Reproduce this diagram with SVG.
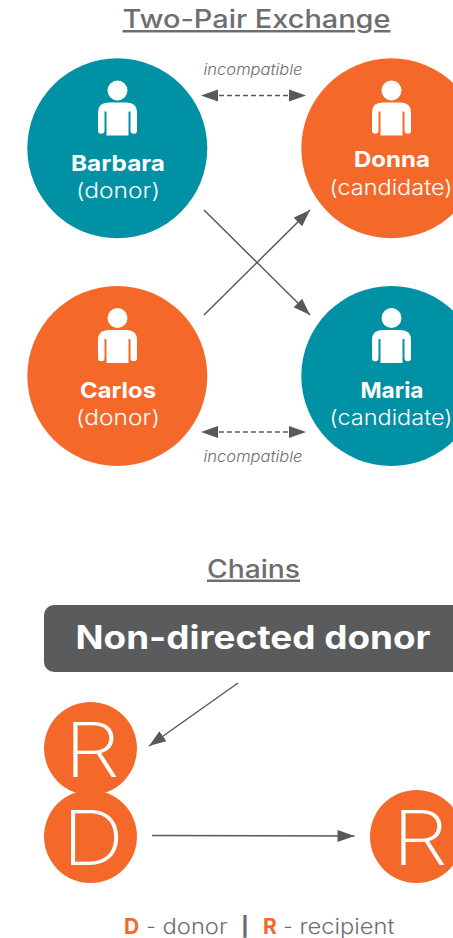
<svg xmlns="http://www.w3.org/2000/svg" width="453" height="938" viewBox="0 0 453 938">
<style>
text{font-family:"Inter","Liberation Sans",sans-serif;text-anchor:middle}
.h{font-size:25px;font-weight:500;fill:#6d6e71;text-decoration:underline}
.n{font-size:22px;font-weight:700;fill:#fff}
.r{font-size:21px;font-weight:300;fill:#fff}
.i{font-size:15px;font-style:italic;font-weight:300;fill:#6d6e71}
.l{font-size:76px;font-weight:250;fill:#fff}
.c{stroke:#58595b;fill:none;stroke-width:1.500}
.k{font-size:21px;font-weight:300;fill:#6d6e71}
.o{font-size:21px;fill:#f4692a;font-weight:700}
.b{font-size:19px;font-weight:800;fill:#6d6e71}
</style>
<defs>
<marker id="a" markerUnits="userSpaceOnUse" markerWidth="18" markerHeight="14" refX="17" refY="6" orient="auto-start-reverse"><path d="M0 0L17 6L0 12Z" fill="#58595b"/></marker>
<g id="p"><circle cx="0" cy="-58" r="10" fill="#fff"/><path d="M-19.500-18V-36Q-19.500-46-9-46H9Q19.500-46 19.500-36V-18A3 3 0 0 1 13-18V-37H11V-13H-11V-37H-13V-18A3 3 0 0 1-19.500-18Z" fill="#fff"/></g>
</defs>
<text class="h" x="256.500" y="28" textLength="268" lengthAdjust="spacingAndGlyphs">Two-Pair Exchange</text>
<text class="h" x="253.500" y="577.500" textLength="93" lengthAdjust="spacingAndGlyphs">Chains</text>
<g id="connectors">
<path class="c" d="M219 95.500H289" stroke-dasharray="5 3"/>
<path d="M201 95.500L218 89.500V101.500Z" fill="#58595b"/><path d="M306 95.500L289 89.500V101.500Z" fill="#58595b"/>
<path class="c" d="M219 432H289" stroke-dasharray="5 3"/>
<path d="M201 432L218 426V438Z" fill="#58595b"/><path d="M306 432L289 426V438Z" fill="#58595b"/>
<path class="c" d="M204 210L310 315" marker-end="url(#a)"/>
<path class="c" d="M204 315L310 210" marker-end="url(#a)"/>
<path class="c" d="M238 683L149 746" marker-end="url(#a)"/>
<path class="c" d="M152 835.500L354.500 836" marker-end="url(#a)"/>
</g>
<g id="barbara"><circle cx="117.300" cy="148.300" r="90" fill="#0091a4"/><use href="#p" x="117.500" y="148.500"/><text class="n" x="118" y="170.500" textLength="94" lengthAdjust="spacingAndGlyphs">Barbara</text><text class="r" x="118" y="197.500" textLength="84" lengthAdjust="spacingAndGlyphs">(donor)</text></g>
<g id="donna"><circle cx="391.300" cy="148.300" r="90" fill="#f4692a"/><use href="#p" x="391.500" y="148.500"/><text class="n" x="392" y="167" textLength="76" lengthAdjust="spacingAndGlyphs">Donna</text><text class="r" x="391" y="195" textLength="123" lengthAdjust="spacingAndGlyphs">(candidate)</text></g>
<g id="carlos"><circle cx="117.300" cy="376" r="90" fill="#f4692a"/><use href="#p" x="117.500" y="376"/><text class="n" x="118" y="397.500" textLength="76" lengthAdjust="spacingAndGlyphs">Carlos</text><text class="r" x="118" y="424.500" textLength="84" lengthAdjust="spacingAndGlyphs">(donor)</text></g>
<g id="maria"><circle cx="391.300" cy="376" r="90" fill="#0091a4"/><use href="#p" x="391.500" y="376"/><text class="n" x="392" y="397.500" textLength="63" lengthAdjust="spacingAndGlyphs">Maria</text><text class="r" x="391" y="424.500" textLength="123" lengthAdjust="spacingAndGlyphs">(candidate)</text></g>
<text class="i" x="253" y="75" textLength="99" lengthAdjust="spacingAndGlyphs">incompatible</text>
<text class="i" x="253" y="462" textLength="99" lengthAdjust="spacingAndGlyphs">incompatible</text>
<g id="ndd"><rect x="44" y="605" width="430" height="67" rx="10" fill="#5a5b5d"/><text x="253" y="649" font-size="32" font-weight="700" fill="#fff" textLength="355" lengthAdjust="spacingAndGlyphs">Non-directed donor</text></g>
<g id="r1"><circle cx="90.500" cy="748.500" r="46.500" fill="#f4692a"/><text class="l" x="92" y="777" textLength="56" lengthAdjust="spacingAndGlyphs">R</text></g>
<g id="d1"><circle cx="90.500" cy="836.500" r="46.500" fill="#f4692a"/><text class="l" x="93" y="865" textLength="62" lengthAdjust="spacingAndGlyphs">D</text></g>
<g id="r2"><circle cx="416.500" cy="836.500" r="46.500" fill="#f4692a"/><text class="l" x="420" y="865" textLength="56" lengthAdjust="spacingAndGlyphs">R</text></g>
<g id="legend"><text class="o" x="131.500" y="934">D</text><text class="k" x="151" y="934">-</text><text class="k" x="195" y="934" textLength="65" lengthAdjust="spacingAndGlyphs">donor</text><text class="b" x="245" y="933">|</text><text class="o" x="270" y="934">R</text><text class="k" x="288" y="934">-</text><text class="k" x="347" y="934" textLength="95" lengthAdjust="spacingAndGlyphs">recipient</text></g>
</svg>
